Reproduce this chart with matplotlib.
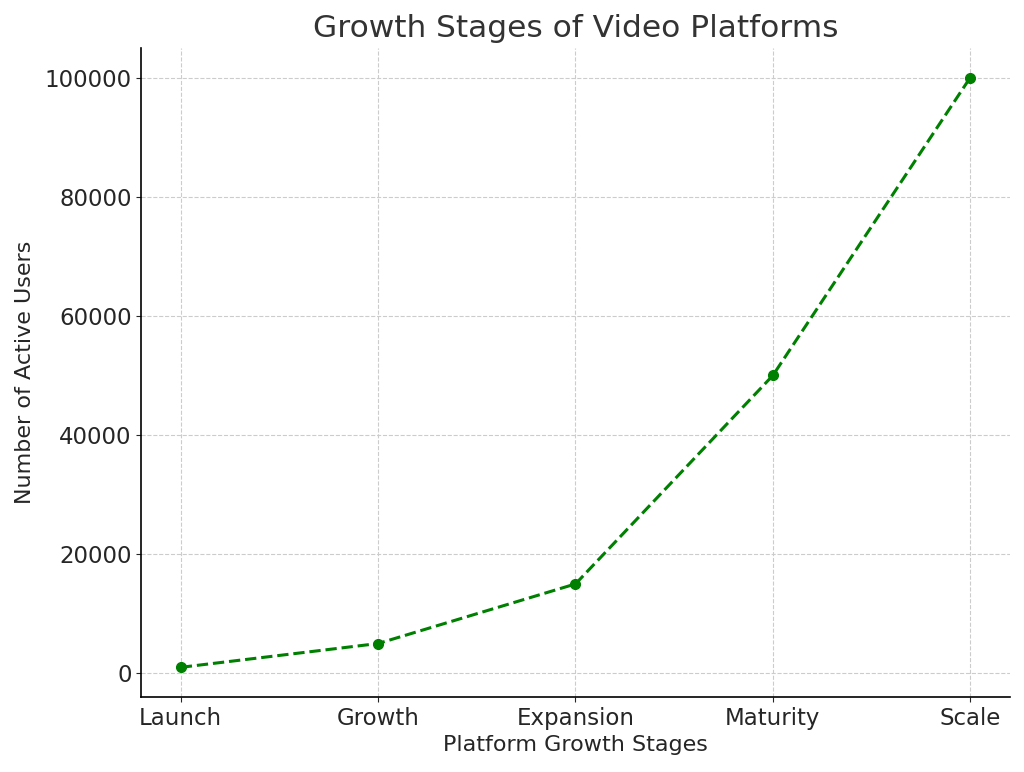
import matplotlib
matplotlib.use("Agg")
import matplotlib.pyplot as plt

stages = ["Launch", "Growth", "Expansion", "Maturity", "Scale"]
users = [1000, 5000, 15000, 50000, 100000]

fig, ax = plt.subplots(figsize=(10.24, 7.72), dpi=100)
fig.subplots_adjust(left=0.138, right=0.986, top=0.938, bottom=0.097)

ax.plot(stages, users, linestyle="--", marker="o", color="green", linewidth=2.2, markersize=7)

ax.set_title("Growth Stages of Video Platforms", fontsize=22.5, color="#333333", pad=8)
ax.set_xlabel("Platform Growth Stages", fontsize=16, color="#262626")
ax.set_ylabel("Number of Active Users", fontsize=16, color="#262626", labelpad=7)
ax.tick_params(axis="both", labelsize=16.5, colors="#262626")
ax.set_yticks([0, 20000, 40000, 60000, 80000, 100000])
ax.set_ylim(-4000, 105000)
ax.grid(True, linestyle="--", color="#cccccc", linewidth=0.8)
ax.spines["top"].set_visible(False)
ax.spines["right"].set_visible(False)
ax.spines["left"].set_linewidth(1.2)
ax.spines["bottom"].set_linewidth(1.2)

fig.savefig("out.png", dpi=100)
